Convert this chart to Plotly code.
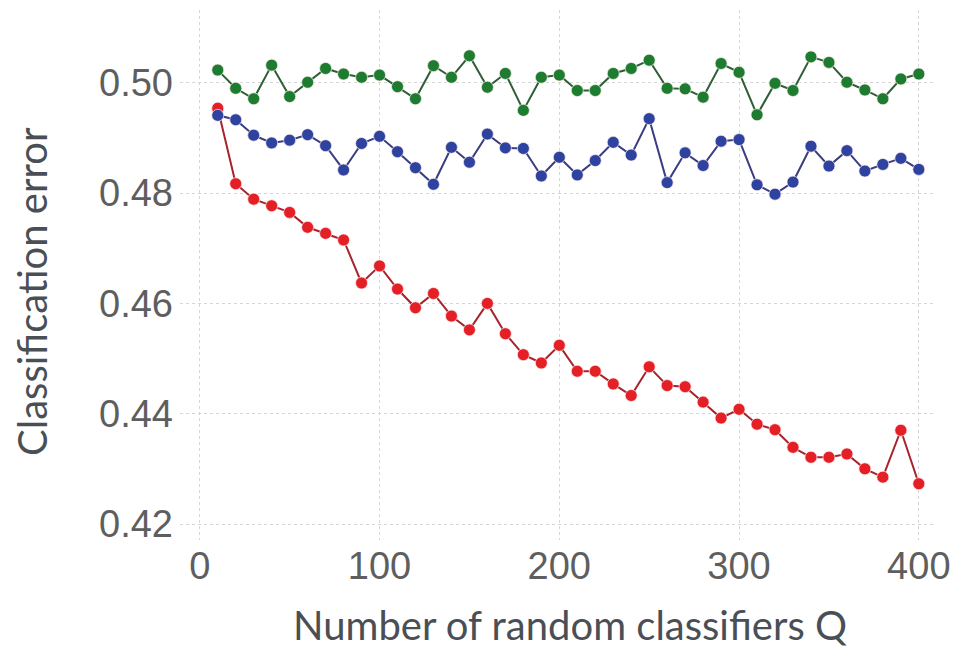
import plotly.graph_objects as go

Q = [10, 20, 30, 40, 50, 60, 70, 80, 90, 100,
     110, 120, 130, 140, 150, 160, 170, 180, 190, 200,
     210, 220, 230, 240, 250, 260, 270, 280, 290, 300,
     310, 320, 330, 340, 350, 360, 370, 380, 390, 400]

red_err = [0.4954, 0.4817, 0.4789, 0.4777, 0.4765, 0.4738, 0.4727, 0.4715, 0.4637, 0.4668,
           0.4626, 0.4592, 0.4618, 0.4577, 0.4552, 0.4600, 0.4545, 0.4507, 0.4492, 0.4524,
           0.4477, 0.4477, 0.4454, 0.4433, 0.4485, 0.4451, 0.4449, 0.4421, 0.4392, 0.4408,
           0.4381, 0.4371, 0.4339, 0.4321, 0.4321, 0.4327, 0.4300, 0.4285, 0.4370, 0.4273]

blue_err = [0.4941, 0.4933, 0.4905, 0.4891, 0.4896, 0.4906, 0.4886, 0.4842, 0.4890, 0.4903,
            0.4875, 0.4846, 0.4816, 0.4883, 0.4856, 0.4907, 0.4882, 0.4881, 0.4831, 0.4865,
            0.4833, 0.4859, 0.4892, 0.4869, 0.4935, 0.4819, 0.4873, 0.4850, 0.4894, 0.4897,
            0.4815, 0.4798, 0.4820, 0.4885, 0.4849, 0.4877, 0.4840, 0.4852, 0.4863, 0.4843]

green_err = [0.5023, 0.4990, 0.4971, 0.5032, 0.4975, 0.5001, 0.5026, 0.5016, 0.5010, 0.5014,
             0.4993, 0.4971, 0.5031, 0.5010, 0.5049, 0.4992, 0.5017, 0.4950, 0.5010, 0.5014,
             0.4986, 0.4986, 0.5017, 0.5026, 0.5041, 0.4990, 0.4989, 0.4974, 0.5035, 0.5019,
             0.4942, 0.4999, 0.4986, 0.5047, 0.5037, 0.5001, 0.4987, 0.4971, 0.5007, 0.5016]

x_ticks = [0, 100, 200, 300, 400]
y_ticks = [0.42, 0.44, 0.46, 0.48, 0.50]
y_tick_text = ["0.42", "0.44", "0.46", "0.48", "0.50"]

series = [
    ("red", red_err, "#e51f26", "#a8232b"),
    ("blue", blue_err, "#2e43a0", "#3a3d80"),
    ("green", green_err, "#1d7c30", "#2e5e36"),
]

fig = go.Figure()
for name, vals, mcol, lcol in series:
    fig.add_trace(go.Scatter(
        x=Q, y=vals, mode="lines+markers", name=name,
        line=dict(color=lcol, width=2),
        marker=dict(size=12, color=mcol, line=dict(color="rgba(255,235,235,0.7)", width=1)),
        showlegend=False,
    ))

tick_font = dict(family="Liberation Sans, Arial, sans-serif", size=38, color="#5e5e5e")
title_font = dict(family="Lato, Open Sans, sans-serif", size=40, color="#4a4f56")

fig.update_layout(
    width=960, height=650,
    margin=dict(l=180, r=15, t=10, b=110),
    plot_bgcolor="white", paper_bgcolor="white",
    xaxis=dict(
        range=[-11, 409], tickvals=x_ticks, ticktext=[str(v) for v in x_ticks],
        showgrid=True, gridcolor="#d6d6d6", griddash="dot", gridwidth=1,
        zeroline=False, showline=False, ticks="", tickfont=tick_font,
        ticklabeloverflow="allow",
    ),
    yaxis=dict(
        range=[0.4171, 0.5132], tickvals=y_ticks, ticktext=y_tick_text,
        showgrid=True, gridcolor="#d6d6d6", griddash="dot", gridwidth=1,
        zeroline=False, showline=False, ticks="", tickfont=tick_font,
        ticklabeloverflow="allow", ticklabelstandoff=6,
    ),
    annotations=[
        dict(text="Number of random classifiers Q", xref="paper", yref="paper",
             x=0.517, y=-0.16, xanchor="center", yanchor="middle",
             showarrow=False, font=title_font),
        dict(text="Classification error", xref="paper", yref="paper",
             x=-0.196, y=0.468, xanchor="center", yanchor="middle", textangle=-90,
             showarrow=False, font=title_font),
    ],
)

fig.write_html("out.html", config={"displayModeBar": False},
               post_script="document.body.style.margin='0';")
